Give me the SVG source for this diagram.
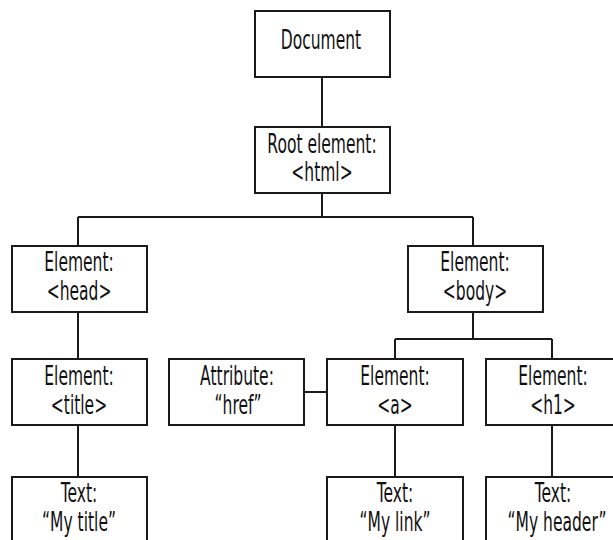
<svg xmlns="http://www.w3.org/2000/svg" width="613" height="540" viewBox="0 0 613 540">
<style>
.box{fill:#fff;stroke:#1a1a1a;stroke-width:2}
.ln{fill:none;stroke:#1a1a1a;stroke-width:2}
.t{font-family:"DejaVu Sans","Liberation Sans",sans-serif;font-size:27px;fill:#111;text-anchor:middle}
</style>
<rect width="613" height="540" fill="#fff"/>
<g id="connectors" class="ln">
<path d="M322,77V127"/>
<path d="M322,193V217M78,217H473M78,217V246M473,217V246"/>
<path d="M78,312V359"/>
<path d="M473,312V339M395,339H552M395,339V359M552,339V359"/>
<path d="M304,392H327"/>
<path d="M78,425V477M395,425V477M552,425V477"/>
</g>
<g id="document"><rect class="box" x="255" y="11" width="135" height="66"/>
<text class="t" transform="translate(321,49) scale(0.575,1)">Document</text></g>
<g id="root"><rect class="box" x="255" y="127" width="135" height="66"/>
<text class="t" transform="translate(322,153) scale(0.575,1)">Root element:</text>
<text class="t" transform="translate(322,181) scale(0.575,1)">&lt;html&gt;</text></g>
<g id="head"><rect class="box" x="12" y="246" width="135" height="66"/>
<text class="t" transform="translate(79,271) scale(0.575,1)">Element:</text>
<text class="t" transform="translate(79,300) scale(0.575,1)">&lt;head&gt;</text></g>
<g id="body"><rect class="box" x="408" y="246" width="135" height="66"/>
<text class="t" transform="translate(475,271) scale(0.575,1)">Element:</text>
<text class="t" transform="translate(475,300) scale(0.575,1)">&lt;body&gt;</text></g>
<g id="title"><rect class="box" x="12" y="359" width="135" height="66"/>
<text class="t" transform="translate(79,385) scale(0.575,1)">Element:</text>
<text class="t" transform="translate(79,414) scale(0.575,1)">&lt;title&gt;</text></g>
<g id="attr"><rect class="box" x="169" y="359" width="135" height="66"/>
<text class="t" transform="translate(237,385) scale(0.575,1)">Attribute:</text>
<text class="t" transform="translate(238,414) scale(0.575,1)">“href”</text></g>
<g id="a"><rect class="box" x="327" y="359" width="136" height="66"/>
<text class="t" transform="translate(395,385) scale(0.575,1)">Element:</text>
<text class="t" transform="translate(395,414) scale(0.575,1)">&lt;a&gt;</text></g>
<g id="h1"><rect class="box" x="486" y="359" width="135" height="66"/>
<text class="t" transform="translate(553,385) scale(0.575,1)">Element:</text>
<text class="t" transform="translate(553,414) scale(0.575,1)">&lt;h1&gt;</text></g>
<g id="text-title"><rect class="box" x="12" y="477" width="135" height="80"/>
<text class="t" transform="translate(79,502) scale(0.575,1)">Text:</text>
<text class="t" transform="translate(79,531) scale(0.575,1)">“My title”</text></g>
<g id="text-link"><rect class="box" x="327" y="477" width="136" height="80"/>
<text class="t" transform="translate(395,502) scale(0.575,1)">Text:</text>
<text class="t" transform="translate(395,531) scale(0.575,1)">“My link”</text></g>
<g id="text-header"><rect class="box" x="486" y="477" width="135" height="80"/>
<text class="t" transform="translate(553,502) scale(0.575,1)">Text:</text>
<text class="t" transform="translate(557,531) scale(0.575,1)">“My header”</text></g>
</svg>
